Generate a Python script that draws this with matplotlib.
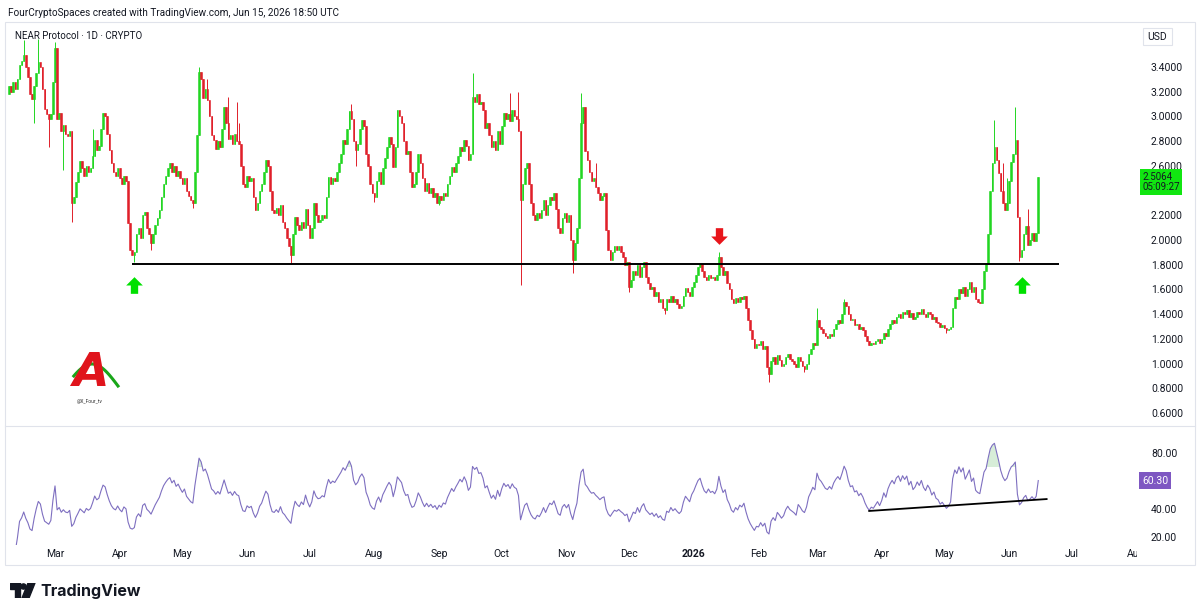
import numpy as np
import pandas as pd
import matplotlib
matplotlib.use('Agg')
from matplotlib import pyplot as plt
import matplotlib.dates as mdates
import matplotlib.transforms as mtrans
from matplotlib.path import Path
from matplotlib.patches import Rectangle, Circle, Polygon

plt.rcParams['font.family'] = ['Roboto', 'DejaVu Sans']

# NEAR/USD daily closes, month by month
feb25 = [3.25, 3.20, 3.28, 3.22, 3.30, 3.42, 3.45, 3.50, 3.40, 3.32, 3.18, 3.14, 3.25, 3.35, 3.44, 3.40,
         3.22, 3.06, 3.02, 2.98, 3.02, 3.28]
mar25 = [3.55, 2.98, 3.03, 2.88, 2.93, 2.86, 2.84, 2.88, 2.30, 2.35, 2.47, 2.55, 2.64, 2.58, 2.52, 2.60,
         2.55, 2.58, 2.68, 2.81, 2.73, 2.76, 2.90, 3.03, 3.00, 2.86, 2.73, 2.62, 2.55, 2.52, 2.58]
apr25 = [2.50, 2.45, 2.52, 2.48, 2.14, 1.92, 1.88, 1.90, 2.05, 2.10, 2.02, 2.20, 2.23, 2.10, 2.05, 1.98,
         2.05, 2.12, 2.18, 2.24, 2.35, 2.45, 2.52, 2.58, 2.62, 2.55, 2.60, 2.52, 2.56, 2.50]
may25 = [2.45, 2.50, 2.40, 2.36, 2.32, 2.30, 2.55, 2.85, 3.36, 3.30, 3.15, 3.22, 3.13, 3.00, 2.85, 2.81,
         2.74, 2.80, 2.75, 2.90, 3.08, 2.95, 2.82, 2.85, 2.78, 2.86, 2.80, 2.78, 2.60, 2.45, 2.43]
jun25 = [2.52, 2.48, 2.50, 2.35, 2.24, 2.30, 2.40, 2.45, 2.55, 2.65, 2.60, 2.40, 2.24, 2.22, 2.26, 2.20,
         2.28, 2.15, 2.10, 2.02, 1.95, 1.88, 2.05, 2.19, 2.12, 2.08, 2.15, 2.10, 2.25, 2.12]
jul25 = [2.02, 2.10, 2.30, 2.20, 2.15, 2.16, 2.20, 2.18, 2.35, 2.51, 2.45, 2.50, 2.48, 2.55, 2.62, 2.70,
         2.81, 2.78, 2.90, 3.04, 2.98, 2.80, 2.73, 2.78, 2.90, 2.97, 2.92, 2.70, 2.60, 2.45, 2.38]
aug25 = [2.35, 2.48, 2.55, 2.45, 2.58, 2.66, 2.75, 2.83, 2.78, 2.59, 2.75, 3.05, 3.00, 2.95, 2.80, 2.70,
         2.72, 2.55, 2.43, 2.45, 2.55, 2.70, 2.62, 2.50, 2.40, 2.46, 2.38, 2.42, 2.35, 2.38, 2.30]
sep25 = [2.36, 2.32, 2.38, 2.36, 2.45, 2.52, 2.59, 2.55, 2.62, 2.68, 2.75, 2.72, 2.81, 2.76, 2.65, 2.70,
         3.16, 3.12, 3.18, 3.10, 3.12, 3.05, 2.91, 2.95, 2.85, 2.75, 2.80, 2.73, 2.88, 2.78]
oct25 = [2.92, 3.03, 2.98, 3.02, 2.96, 3.05, 3.00, 2.98, 2.88, 2.32, 2.45, 2.58, 2.62, 2.45, 2.30, 2.20,
         2.16, 2.22, 2.18, 2.24, 2.32, 2.20, 2.28, 2.35, 2.32, 2.38, 2.25, 2.10, 2.06, 2.18, 2.22]
nov25 = [2.15, 2.20, 2.00, 1.84, 1.98, 2.10, 2.50, 2.95, 3.08, 2.72, 2.65, 2.55, 2.48, 2.50, 2.43, 2.38,
         2.32, 2.36, 2.38, 2.08, 1.92, 1.84, 1.90, 1.95, 1.92, 1.95, 1.90, 1.86, 1.80, 1.82]
dec25 = [1.62, 1.68, 1.75, 1.72, 1.80, 1.70, 1.78, 1.82, 1.70, 1.65, 1.60, 1.62, 1.55, 1.58, 1.50, 1.52,
         1.45, 1.43, 1.52, 1.50, 1.55, 1.50, 1.52, 1.48, 1.45, 1.47, 1.55, 1.61, 1.58, 1.55, 1.62]
jan26 = [1.66, 1.72, 1.78, 1.81, 1.75, 1.70, 1.68, 1.72, 1.69, 1.70, 1.68, 1.72, 1.86, 1.78, 1.72, 1.75,
         1.65, 1.60, 1.52, 1.49, 1.53, 1.50, 1.54, 1.52, 1.55, 1.45, 1.35, 1.27, 1.20, 1.13, 1.16]
feb26 = [1.15, 1.18, 1.12, 1.14, 0.97, 0.92, 1.02, 1.05, 1.00, 1.07, 1.03, 0.98, 1.00, 1.05, 1.08, 1.04,
         1.02, 1.00, 0.97, 1.05, 1.02, 0.98, 0.96, 1.00, 1.08, 1.12, 1.17, 1.15]
mar26 = [1.35, 1.30, 1.28, 1.25, 1.22, 1.21, 1.24, 1.22, 1.28, 1.32, 1.35, 1.33, 1.40, 1.50, 1.47, 1.40,
         1.35, 1.36, 1.31, 1.32, 1.28, 1.30, 1.27, 1.22, 1.18, 1.15, 1.17, 1.16, 1.18, 1.20, 1.17]
apr26 = [1.20, 1.25, 1.22, 1.28, 1.32, 1.35, 1.33, 1.38, 1.40, 1.37, 1.42, 1.40, 1.43, 1.38, 1.41, 1.36,
         1.38, 1.42, 1.40, 1.44, 1.40, 1.38, 1.42, 1.40, 1.36, 1.38, 1.34, 1.33, 1.30, 1.31]
may26 = [1.29, 1.27, 1.28, 1.30, 1.45, 1.54, 1.52, 1.60, 1.57, 1.62, 1.55, 1.60, 1.66, 1.58, 1.62, 1.52,
         1.50, 1.49, 1.60, 1.75, 1.81, 2.05, 2.40, 2.62, 2.75, 2.65, 2.54, 2.40, 2.30, 2.24, 2.30]
jun26 = [2.48, 2.63, 2.70, 2.81, 2.19, 1.86, 1.92, 2.05, 2.1125, 1.96, 2.00, 2.06, 1.99, 2.06, 2.5064]

first_open = 3.18

# the wicks that stand out on the chart
wick_hi = {'2025-02-14': 3.62, '2025-02-21': 3.63, '2025-03-01': 3.60, '2025-03-19': 2.90,
           '2025-05-09': 3.40, '2025-05-13': 3.30, '2025-05-23': 3.16, '2025-05-28': 2.95,
           '2025-05-27': 3.12, '2025-07-21': 3.10, '2025-09-17': 3.35, '2025-10-05': 3.19,
           '2025-10-09': 3.20, '2025-11-08': 3.19, '2025-11-10': 3.05, '2025-11-15': 2.62,
           '2026-01-13': 1.90, '2026-03-01': 1.45, '2026-03-14': 1.52, '2026-05-25': 2.97,
           '2026-05-29': 2.62, '2026-06-04': 3.08, '2026-05-31': 2.50, '2026-06-10': 2.25}
wick_lo = {'2025-02-19': 2.95, '2025-02-26': 2.75, '2025-03-09': 2.15, '2025-03-05': 2.57,
           '2025-04-08': 1.82, '2025-04-16': 1.92, '2025-05-06': 2.26, '2025-06-22': 1.81,
           '2025-07-23': 2.60, '2025-08-01': 2.31, '2025-09-01': 2.28, '2025-10-10': 1.64,
           '2025-11-04': 1.73, '2025-12-01': 1.58, '2025-12-18': 1.40, '2026-02-06': 0.85,
           '2026-02-23': 0.93, '2026-05-02': 1.25, '2026-06-06': 1.83}

rsi_line = [('2026-03-26', 38.6), ('2026-06-19', 47.1)]
support = 1.81

close = np.array(feb25 + mar25 + apr25 + may25 + jun25 + jul25 + aug25 + sep25 + oct25
                 + nov25 + dec25 + jan26 + feb26 + mar26 + apr26 + may26 + jun26)
dates = pd.date_range('2025-02-07', periods=len(close), freq='D')
opens = np.r_[first_open, close[:-1]]
high = np.maximum(opens, close)
low = np.minimum(opens, close)
for d, v in wick_hi.items():
    i = dates.get_loc(pd.Timestamp(d))
    high[i] = max(high[i], v)
for d, v in wick_lo.items():
    i = dates.get_loc(pd.Timestamp(d))
    low[i] = min(low[i], v)

# RSI 14 (Wilder)
delta = pd.Series(close).diff()
gain = delta.clip(lower=0).ewm(alpha=1 / 14, adjust=False).mean()
loss = (-delta.clip(upper=0)).ewm(alpha=1 / 14, adjust=False).mean()
rsi = (100 - 100 / (1 + gain / loss)).values

UP, DN = '#22d622', '#e0202a'
TXT = '#131722'
W, H = 1200, 615


def box(x0, y0, x1, y1):
    return [x0 / W, 1 - y1 / H, (x1 - x0) / W, (y1 - y0) / H]


fig = plt.figure(figsize=(W / 100, H / 100), dpi=100)
ax = fig.add_axes(box(5, 25, 1137, 425))
axr = fig.add_axes(box(5, 427, 1137, 545), sharex=ax)

x = mdates.date2num(dates)
up = close >= opens
col = np.where(up, UP, DN)
ax.vlines(x, low, high, colors=col, linewidth=0.7)
ax.bar(x, np.abs(close - opens), width=0.75, bottom=np.minimum(opens, close),
       color=col, edgecolor=col, linewidth=0.4)

ax.hlines(support, mdates.date2num(pd.Timestamp('2025-04-07')),
          mdates.date2num(pd.Timestamp('2026-06-25')), color='black', linewidth=1.4)

arrow_up = Path([(-0.22, -0.5), (0.22, -0.5), (0.22, 0.0), (0.5, 0.0), (0.0, 0.5),
                 (-0.5, 0.0), (-0.22, 0.0), (-0.22, -0.5)], closed=True)
arrow_dn = arrow_up.transformed(mtrans.Affine2D().scale(1, -1))
for d in ['2025-04-08', '2026-06-07']:
    ax.plot(mdates.date2num(pd.Timestamp(d)), 1.64, marker=arrow_up, markersize=12,
            color='#00e000', markeredgewidth=0)
ax.plot(mdates.date2num(pd.Timestamp('2026-01-13')), 2.03, marker=arrow_dn, markersize=12,
        color='#e8151b', markeredgewidth=0)

x0 = mdates.date2num(pd.Timestamp('2025-02-05 01:00'))
x1 = mdates.date2num(pd.Timestamp('2026-08-01 07:00'))
ax.set_xlim(x0, x1)
ax.set_ylim(0.5036, 3.7398)
ax.yaxis.tick_right()
ax.set_yticks(np.arange(0.6, 3.41, 0.2))
# 2.4000 sits under the last-price tag
ax.yaxis.set_major_formatter(plt.FuncFormatter(lambda v, p: '' if abs(v - 2.4) < 1e-6 else f'{v:.4f}'))
ax.tick_params(axis='y', length=0, pad=10, labelsize=7.5, labelcolor=TXT)
ax.tick_params(axis='x', length=0, labelbottom=False)
for s in ax.spines.values():
    s.set_visible(False)

# last price tag
tr = mtrans.blended_transform_factory(ax.transAxes, ax.transData)
ax.annotate('2.5064\n05:09:27', xy=(1.0045, close[-1]), xycoords=tr, xytext=(0, 4),
            textcoords='offset points', ha='left', va='top',
            fontsize=7, color=TXT, linespacing=1.05,
            bbox=dict(boxstyle='square,pad=0.25', fc='#11e611', ec='none'))

# RSI panel
axr.plot(x, rsi, color='#7e6fc0', linewidth=0.8)
axr.fill_between(x, 70, rsi, where=rsi > 70, interpolate=True, color='#4caf50', alpha=0.22, linewidth=0)
axr.plot(mdates.date2num(pd.to_datetime([p[0] for p in rsi_line])), [p[1] for p in rsi_line],
         color='black', linewidth=1.3)
axr.set_ylim(14.29, 98.57)
axr.yaxis.tick_right()
axr.set_yticks([20, 40, 80])
axr.yaxis.set_major_formatter(plt.FormatStrFormatter('%.2f'))
axr.tick_params(axis='y', length=0, pad=10, labelsize=7.5, labelcolor=TXT)
trr = mtrans.blended_transform_factory(axr.transAxes, axr.transData)
axr.text(1.0045, rsi[-1], f'{rsi[-1]:.2f}', transform=trr, ha='left', va='center',
         fontsize=7.5, color='white', bbox=dict(boxstyle='square,pad=0.3', fc='#7e57c2', ec='none'))
for s in axr.spines.values():
    s.set_visible(False)

ticks = pd.date_range('2025-03-01', '2026-08-01', freq='MS')
axr.set_xticks(mdates.date2num(ticks))
axr.set_xticklabels(['2026' if t.month == 1 else t.strftime('%b') for t in ticks])
axr.tick_params(axis='x', length=0, pad=3, labelsize=7.5, labelcolor=TXT)
clip = mtrans.TransformedBbox(mtrans.Bbox([[0, -0.5], [1, 1]]), axr.transAxes)
for lab in axr.get_xticklabels():
    lab.set_clip_box(clip)
    lab.set_clip_on(True)
    if lab.get_text() == '2026':
        lab.set_fontweight('bold')
axr.set_xlim(x0, x1)

# frame and panel separators
fig.add_artist(Rectangle((5 / W, 1 - 565 / H), 1190 / W, 543 / H, transform=fig.transFigure,
                         fill=False, ec='#e0e3eb', lw=0.8))
fig.add_artist(plt.Line2D([5 / W, 1195 / W], [1 - 426 / H] * 2, color='#e0e3eb', lw=0.8))
fig.add_artist(Rectangle((1143 / W, 1 - 45 / H), 29 / W, 17 / H, transform=fig.transFigure,
                         fill=False, ec='#e0e3eb', lw=0.8))
fig.text(1157.5 / W, 1 - 36.5 / H, 'USD', ha='center', va='center', fontsize=7.5, color=TXT)

fig.text(8 / W, 1 - 13 / H, 'FourCryptoSpaces created with TradingView.com, Jun 15, 2026 18:50 UTC',
         fontsize=7.2, color=TXT, va='center')
fig.text(15 / W, 1 - 36 / H, 'NEAR Protocol · 1D · CRYPTO', fontsize=7.0, color=TXT, va='center')

# watermark logo
lg = fig.add_axes(box(60, 345, 124, 404))
lg.set_xlim(0, 64)
lg.set_ylim(0, 59)
lg.axis('off')
lg.text(30, 30, 'A', fontsize=34, fontweight='bold', fontstyle='italic', color='#e0141c',
        ha='center', va='center', family='DejaVu Sans')
t = np.linspace(0.15, 1.0, 40)
lg.plot(6 + 52 * t, 18 + 22 * np.sin(np.pi * t), color='#19a619', linewidth=2.2)
lg.text(30, 3, '@X_Four_tv', fontsize=3.5, color='#333333', ha='center', va='center')

# TradingView footer logo
tv = fig.add_axes(box(10, 583, 36, 598))
tv.set_xlim(0, 26)
tv.set_ylim(0, 15)
tv.axis('off')
tv.add_patch(Rectangle((0, 9), 10, 6, color=TXT))
tv.add_patch(Rectangle((5, 0), 5, 15, color=TXT))
tv.add_patch(Circle((13.5, 11.5), 2.6, color=TXT))
tv.add_patch(Polygon([(18, 15), (25, 15), (19, 0), (12, 0)], closed=True, color=TXT))
fig.text(40 / W, 1 - 591 / H, 'TradingView', fontsize=11.5, fontweight='bold', color=TXT,
         va='center', family=['Inter', 'DejaVu Sans'])

fig.savefig('out.png', dpi=100)
